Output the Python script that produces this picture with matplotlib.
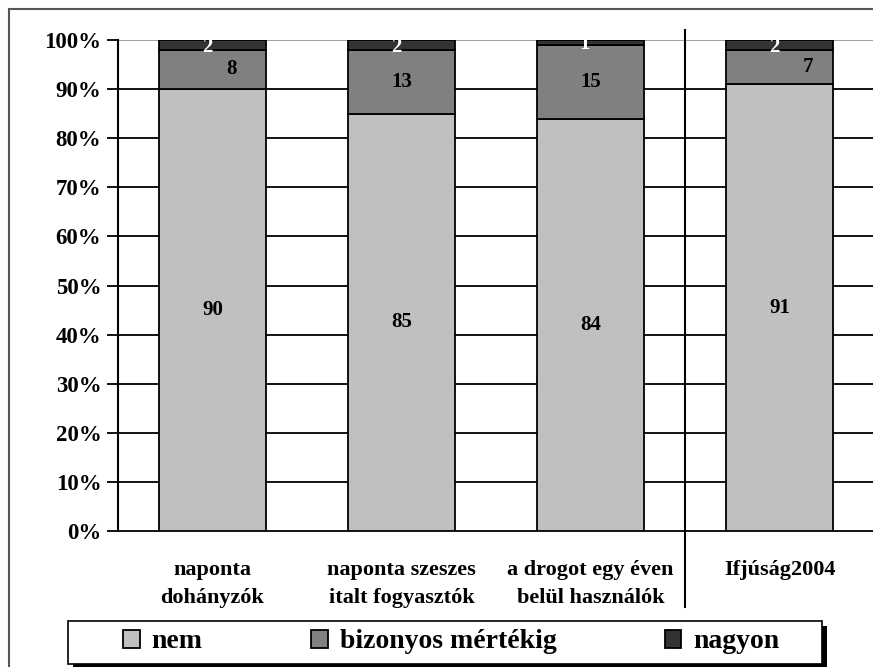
#!/usr/bin/env python3

import numpy as np
import matplotlib.pyplot as plt
from matplotlib.patches import Rectangle
import sys

categories = ['naponta\ndohányzók', 'naponta szeszes\nitalt fogyasztók',
              'a drogot egy éven\nbelül használók', 'Ifjúság2004']
nem = [90, 85, 84, 91]
bizonyos = [8, 13, 15, 7]
nagyon = [2, 2, 1, 2]
series_names = ['nem', 'bizonyos mértékig', 'nagyon']
yticks = [0, 10, 20, 30, 40, 50, 60, 70, 80, 90, 100]


def main():
    plt.rcParams['font.family'] = ['Liberation Serif', 'DejaVu Serif']
    plt.rcParams['font.weight'] = 'bold'

    fig = plt.figure(figsize=(8.73, 6.67), dpi=100)
    ax = fig.add_axes([118 / 873, 1 - 531 / 667, 756 / 873, 491 / 667])

    x = np.arange(len(categories))
    nem_a = np.array(nem)
    biz_a = np.array(bizonyos)
    nag_a = np.array(nagyon)
    w = 0.57
    colors = ['#c0c0c0', '#808080', '#333333']

    b1 = ax.bar(x, nem_a, w, color=colors[0], edgecolor='black', lw=1.3, zorder=3)
    b2 = ax.bar(x, biz_a, w, bottom=nem_a, color=colors[1], edgecolor='black', lw=1.3, zorder=3)
    b3 = ax.bar(x, nag_a, w, bottom=nem_a + biz_a, color=colors[2], edgecolor='black', lw=1.3, zorder=3)

    # gridlines
    for t in yticks[1:]:
        ax.axhline(t, color='#999999' if t == 100 else 'black', lw=1.3, zorder=1)

    ax.set_xlim(-0.5, 3.5)
    ax.set_ylim(0, 100)
    ax.set_yticks(yticks)
    ax.set_yticklabels([f'{t}%' for t in yticks], fontsize=16.5, fontweight='bold')
    ax.set_xticks(x)
    ax.set_xticklabels(categories, fontsize=16, fontweight='bold', linespacing=1.5)
    ax.tick_params(axis='x', length=0, pad=21)
    ax.tick_params(axis='y', length=8, width=1.3, direction='out', pad=4)
    for s in ['top', 'right']:
        ax.spines[s].set_visible(False)
    ax.spines['left'].set_linewidth(1.5)
    ax.spines['bottom'].set_linewidth(1.3)

    # divider between survey groups and Ifjúság2004
    ax.plot([2.5, 2.5], [-15.5, 102], color='black', lw=1.5, clip_on=False, zorder=4)

    # value labels
    biz_dx = [0.1, 0, 0, 0.15]
    for i in x:
        ax.text(i, nem_a[i] / 2, str(nem[i]), ha='center', va='center',
                fontsize=15, fontweight='bold', zorder=5)
        ax.text(i + biz_dx[i], nem_a[i] + biz_a[i] / 2, str(bizonyos[i]), ha='center',
                va='center', fontsize=15, fontweight='bold', zorder=5)
        ax.text(i - 0.03, 100 - nag_a[i] / 2 - 0.4, str(nagyon[i]), ha='center',
                va='center', fontsize=15, fontweight='bold', color='white', zorder=5)

    # legend with a shadowed frame (cut by the bottom edge as in the original)
    lx0, lx1, ly0, ly1 = 68 / 873, 822 / 873, 1 - 664 / 667, 1 - 621 / 667
    fig.patches.append(Rectangle((lx0 + 0.006, ly0 - 0.008), lx1 - lx0, ly1 - ly0,
                                 transform=fig.transFigure, facecolor='black', zorder=1))
    fig.patches.append(Rectangle((lx0, ly0), lx1 - lx0, ly1 - ly0, transform=fig.transFigure,
                                 facecolor='white', edgecolor='black', lw=1.2, zorder=2))
    leg = fig.legend([b1, b2, b3], series_names, loc='center left',
                     bbox_to_anchor=(123 / 873, 1 - 642 / 667), ncol=3, frameon=False,
                     prop={'family': 'Liberation Serif', 'weight': 'bold', 'size': 20},
                     handlelength=0.6, handleheight=0.6, handletextpad=0.43,
                     columnspacing=3.9, borderaxespad=0, borderpad=0)
    leg.set_zorder(3)

    # outer frame (runs off the right and bottom edges)
    fig.patches.append(Rectangle((9 / 873, -0.05), 1.0, 1 - 9 / 667 + 0.05,
                                 transform=fig.transFigure, fill=False,
                                 edgecolor='#555555', lw=1.5))

    fig.savefig('out.png', dpi=100)


if __name__ == '__main__':
    sys.exit(main())
